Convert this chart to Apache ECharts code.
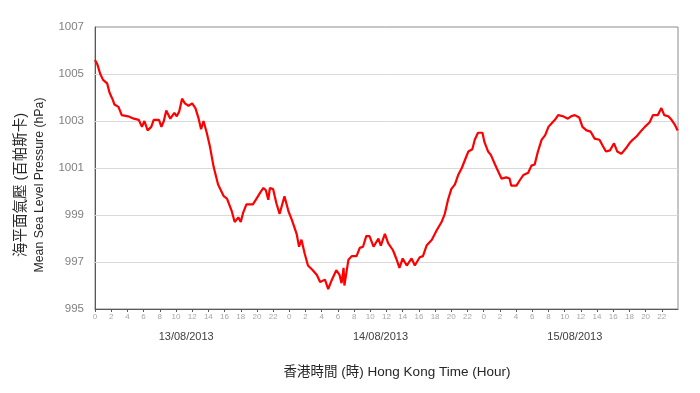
<!DOCTYPE html>
<html>
<head>
<meta charset="utf-8">
<script src="https://cdn.jsdelivr.net/npm/echarts@6/dist/echarts.min.js"></script>
<style>html,body{margin:0;padding:0;background:#fff;}#c{width:700px;height:393px;}</style>
</head>
<body>
<div id="c"></div>
<script>
// Hours since 00:00 on 13/08/2013
const hours = [0.0,0.3,0.65,1.0,1.5,1.8,2.2,2.4,2.9,3.3,4.1,4.8,5.4,5.8,6.1,6.5,6.95,7.25,7.9,8.2,8.5,8.8,9.3,9.8,10.1,10.4,10.75,11.1,11.55,12.0,12.4,12.8,13.1,13.4,13.8,14.2,14.65,15.2,15.9,16.3,16.9,17.25,17.7,18.0,18.3,18.7,19.5,19.95,20.4,20.8,21.1,21.4,21.6,22.0,22.4,22.8,23.4,23.9,24.3,24.9,25.2,25.5,25.9,26.3,26.9,27.4,27.8,28.4,28.8,29.2,29.8,30.2,30.45,30.7,30.8,31.3,31.7,32.3,32.7,33.1,33.5,33.9,34.4,35.0,35.3,35.8,36.2,36.8,37.2,37.6,38.0,38.5,39.1,39.5,40.1,40.5,40.95,41.6,42.2,42.8,43.2,43.6,44.0,44.45,44.85,45.3,45.7,46.1,46.6,46.9,47.3,47.85,48.1,48.55,48.9,49.4,49.8,50.2,50.8,51.2,51.4,52.05,52.5,52.9,53.5,53.9,54.3,54.7,55.15,55.6,56.0,56.4,56.8,57.2,57.8,58.4,58.8,59.25,59.8,60.2,60.7,61.2,61.7,62.3,62.7,63.1,63.6,64.1,64.5,65.0,65.6,66.0,66.4,66.9,67.5,67.9,68.5,68.9,69.5,69.95,70.1,70.3,70.8,71.2,71.6,71.95];
const pressure = [1005.6,1005.4,1005.0,1004.75,1004.6,1004.2,1003.9,1003.7,1003.6,1003.25,1003.2,1003.1,1003.05,1002.75,1003.0,1002.6,1002.75,1003.05,1003.05,1002.75,1003.0,1003.45,1003.1,1003.35,1003.2,1003.4,1003.95,1003.75,1003.65,1003.75,1003.55,1003.1,1002.65,1003.0,1002.5,1001.9,1001.05,1000.3,999.8,999.7,999.15,998.7,998.9,998.7,999.1,999.45,999.45,999.7,999.95,1000.15,1000.05,999.65,1000.15,1000.1,999.5,999.05,999.8,999.15,998.8,998.2,997.65,997.95,997.35,996.85,996.65,996.45,996.15,996.25,995.85,996.2,996.65,996.45,996.1,996.75,996.0,997.1,997.25,997.25,997.6,997.65,998.1,998.1,997.65,998.0,997.7,998.2,997.8,997.5,997.15,996.75,997.15,996.85,997.15,996.85,997.2,997.25,997.7,997.95,998.35,998.7,999.05,999.65,1000.1,1000.3,1000.7,1001.0,1001.35,1001.7,1001.8,1002.2,1002.5,1002.5,1002.1,1001.7,1001.55,1001.15,1000.85,1000.55,1000.6,1000.55,1000.25,1000.25,1000.5,1000.7,1000.8,1001.1,1001.15,1001.7,1002.2,1002.4,1002.75,1002.9,1003.05,1003.25,1003.2,1003.1,1003.2,1003.25,1003.15,1002.75,1002.6,1002.55,1002.25,1002.2,1001.95,1001.7,1001.75,1002.05,1001.7,1001.6,1001.85,1002.05,1002.2,1002.35,1002.6,1002.75,1002.95,1003.25,1003.25,1003.55,1003.55,1003.25,1003.2,1003.05,1002.85,1002.6];
const dates = ['13/08/2013','14/08/2013','15/08/2013'];
const yGridValues = [997, 999, 1001, 1003, 1005];
const yLabelValues = [995, 997, 999, 1001, 1003, 1005, 1007];
const yTitleZh = '海平面氣壓 (百帕斯卡)';
const yTitleEn = 'Mean Sea Level Pressure (hPa)';
const xTitle = '香港時間 (時) Hong Kong Time (Hour)';

const font = '"Liberation Sans","Noto Sans CJK TC",sans-serif';
const chart = echarts.init(document.getElementById('c'), null, {renderer: 'canvas'});
chart.setOption({
  animation: false,
  backgroundColor: '#ffffff',
  grid: {left: 95, right: 22, top: 27, bottom: 84, show: true, borderColor: '#8c8c8c', borderWidth: 1},
  xAxis: [{
    type: 'value', min: 0, max: 72, interval: 2,
    axisLine: {show: true, lineStyle: {color: '#595959', width: 1}},
    axisTick: {show: true, length: 3, lineStyle: {color: '#595959'}},
    splitLine: {show: false},
    axisLabel: {
      fontSize: 8, color: '#a6a6a6', margin: 4, fontFamily: font,
      showMaxLabel: false,
      formatter: v => (v >= 72 ? '' : String(v % 24))
    }
  }, {
    type: 'category', data: dates, position: 'bottom', offset: 20, boundaryGap: true,
    axisLine: {show: false}, axisTick: {show: false}, splitLine: {show: false},
    axisLabel: {fontSize: 11, color: '#404040', margin: 2, fontFamily: font, padding: [0, 12, 0, 0]}
  }],
  yAxis: {
    type: 'value', min: 995, max: 1007, interval: 1,
    axisLine: {show: true, lineStyle: {color: '#595959', width: 1}},
    axisTick: {show: false},
    splitLine: {show: false},
    axisLabel: {
      fontSize: 11.5, color: '#808080', margin: 11, fontFamily: font,
      formatter: v => (yLabelValues.indexOf(v) >= 0 ? String(v) : '')
    }
  },
  graphic: [{
    type: 'text', x: 30, y: 185, rotation: Math.PI / 2,
    style: {text: '{zh|' + yTitleZh + '}\n{en|' + yTitleEn + '}', fill: '#262626',
            fontFamily: font, align: 'center', verticalAlign: 'middle',
            rich: {zh: {fontSize: 14.5, lineHeight: 20, fill: '#262626', fontFamily: font},
                   en: {fontSize: 12.3, lineHeight: 19, fill: '#262626', fontFamily: font}}}
  }, {
    type: 'text', x: 397, y: 372,
    style: {text: xTitle, fontSize: 13.5, fill: '#262626', fontFamily: font, align: 'center', verticalAlign: 'middle'}
  }],
  series: [{
    type: 'line', xAxisIndex: 0, yAxisIndex: 0,
    data: hours.map((h, i) => [h, pressure[i]]),
    showSymbol: false, symbol: 'none',
    lineStyle: {color: '#ff0000', width: 2.2},
    z: 5,
    markLine: {
      silent: true, symbol: ['none', 'none'], label: {show: false},
      lineStyle: {color: '#d9d9d9', width: 1, type: 'solid'},
      z: 1,
      data: yGridValues.map(v => ({yAxis: v}))
    }
  }]
});
</script>
</body>
</html>
